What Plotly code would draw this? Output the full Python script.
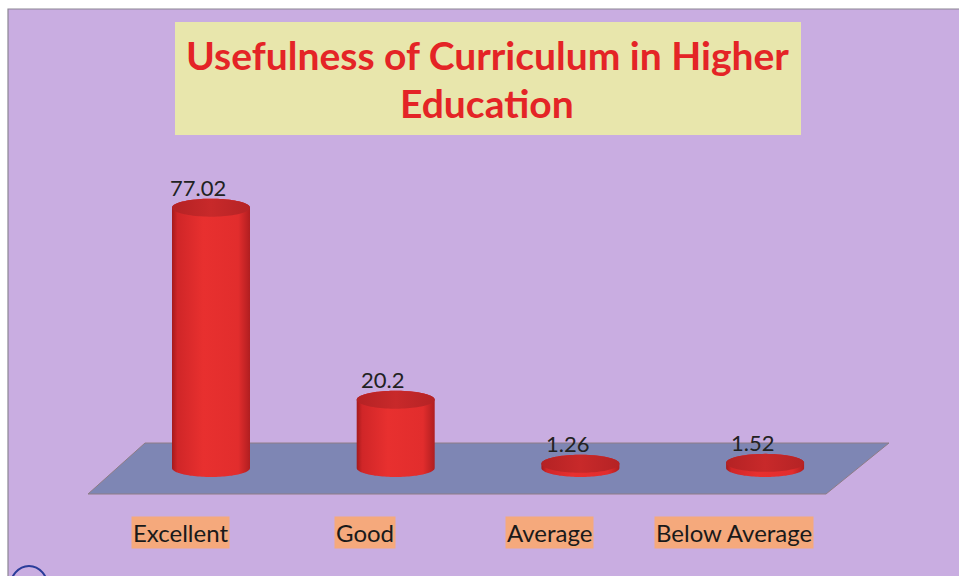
import numpy as np
import plotly.graph_objects as go

# Survey results: usefulness of the curriculum in higher education (%)
categories = ["Excellent", "Good", "Average", "Below Average"]
values = [77.02, 20.2, 1.26, 1.52]
title_lines = ["Usefulness of Curriculum in Higher", "Education"]

# Layout / styling constants
W, H = 959, 576
PX_PER_CAT = 184.7          # horizontal pixels per category
PX_PER_UNIT = 3.38          # vertical pixels per percentage point
X0_PX, BASE_PX = 211, 468   # pixel position of first category / baseline
RX = 39 / PX_PER_CAT        # cylinder radius in category units
RY = 9 / PX_PER_UNIT        # ellipse half-height in value units

BG = "#C9ADE1"
FLOOR = "#7E86B4"
TITLE_BG = "#E8E6AC"
TITLE_RED = "#E42426"
LABEL_BG = "#F5A97C"
FONT = "Lato, Carlito, sans-serif"

x_range = [-X0_PX / PX_PER_CAT, (W - X0_PX) / PX_PER_CAT]
y_range = [(BASE_PX - H) / PX_PER_UNIT, BASE_PX / PX_PER_UNIT]

fig = go.Figure()

# Cylinders: body with horizontal shading, then a darker top cap
t = np.linspace(0, np.pi, 60)
for i, v in enumerate(values):
    top_arc_x = i - RX * np.cos(t)
    top_arc_y = v + RY * np.sin(t)
    bot_arc_x = i + RX * np.cos(t)
    bot_arc_y = -RY * np.sin(t)
    bx = np.concatenate([[i - RX], top_arc_x, [i + RX], bot_arc_x])
    by = np.concatenate([[0], top_arc_y, [0], bot_arc_y])
    fig.add_trace(go.Scatter(
        x=bx, y=by, fill="toself", mode="none", hoverinfo="skip",
        fillgradient=dict(
            type="horizontal",
            colorscale=[[0, "#A51A1C"], [0.07, "#D02628"], [0.4, "#E8302F"],
                        [0.85, "#E22D2D"], [1, "#B01E20"]],
        ),
        showlegend=False,
    ))
    ct = np.linspace(0, 2 * np.pi, 90)
    fig.add_trace(go.Scatter(
        x=i + RX * np.cos(ct), y=v + RY * np.sin(ct),
        fill="toself", mode="none", hoverinfo="skip",
        fillgradient=dict(
            type="horizontal",
            colorscale=[[0, "#B42224"], [0.5, "#C8292A"], [1, "#B52325"]],
        ),
        showlegend=False,
    ))

annotations = []
# Value labels above each cylinder
for i, v in enumerate(values):
    annotations.append(dict(
        x=i, y=v, xref="x", yref="y", text=f"{v:g}", showarrow=False,
        xshift=-13, yshift=20,
        font=dict(family=FONT, size=22, color="#222222"),
    ))
# Category labels on orange tabs
for i, c in enumerate(categories):
    annotations.append(dict(
        x=i, y=0, xref="x", yref="y", text=c, showarrow=False,
        xshift=-31, yshift=-64, bgcolor=LABEL_BG, borderpad=1,
        font=dict(family=FONT, size=24, color="#1A1A1A"),
    ))
# Title lines
for k, line in enumerate(title_lines):
    annotations.append(dict(
        x=0.508, y=1 - (55 + 48 * k) / H, xref="paper", yref="paper",
        yanchor="middle", xanchor="center",
        text=f"<b>{line}</b>", showarrow=False,
        font=dict(family=FONT, size=39, color=TITLE_RED),
    ))

shapes = [
    # page background with thin border
    dict(type="rect", xref="paper", yref="paper", x0=8 / W, x1=1.01,
         y0=-0.01, y1=1 - 9 / H, fillcolor=BG,
         line=dict(color="#8C8694", width=1.2), layer="below"),
    # title box
    dict(type="rect", xref="paper", yref="paper", x0=175 / W, x1=801 / W,
         y0=1 - 135 / H, y1=1 - 22 / H, fillcolor=TITLE_BG,
         line=dict(width=0), layer="below"),
    # floor plane
    dict(type="path", xref="x", yref="y", layer="below",
         path=(f"M {(88 - X0_PX) / PX_PER_CAT},{(BASE_PX - 494) / PX_PER_UNIT} "
               f"L {(145 - X0_PX) / PX_PER_CAT},{(BASE_PX - 443) / PX_PER_UNIT} "
               f"L {(889 - X0_PX) / PX_PER_CAT},{(BASE_PX - 443) / PX_PER_UNIT} "
               f"L {(826 - X0_PX) / PX_PER_CAT},{(BASE_PX - 494) / PX_PER_UNIT} Z"),
         fillcolor=FLOOR, line=dict(color="#8E7C86", width=1)),
    # small pen mark near the bottom-left corner
    dict(type="circle", xref="paper", yref="paper",
         x0=10 / W, x1=48 / W, y0=1 - 610 / H, y1=1 - 566 / H,
         line=dict(color="#2A3C9A", width=2), layer="above"),
]

fig.update_layout(
    width=W, height=H,
    margin=dict(l=0, r=0, t=0, b=0),
    paper_bgcolor="white", plot_bgcolor="rgba(0,0,0,0)",
    xaxis=dict(range=x_range, visible=False, fixedrange=True),
    yaxis=dict(range=y_range, visible=False, fixedrange=True),
    annotations=annotations, shapes=shapes, showlegend=False,
)

fig.write_html("out.html", config={"displayModeBar": False})
